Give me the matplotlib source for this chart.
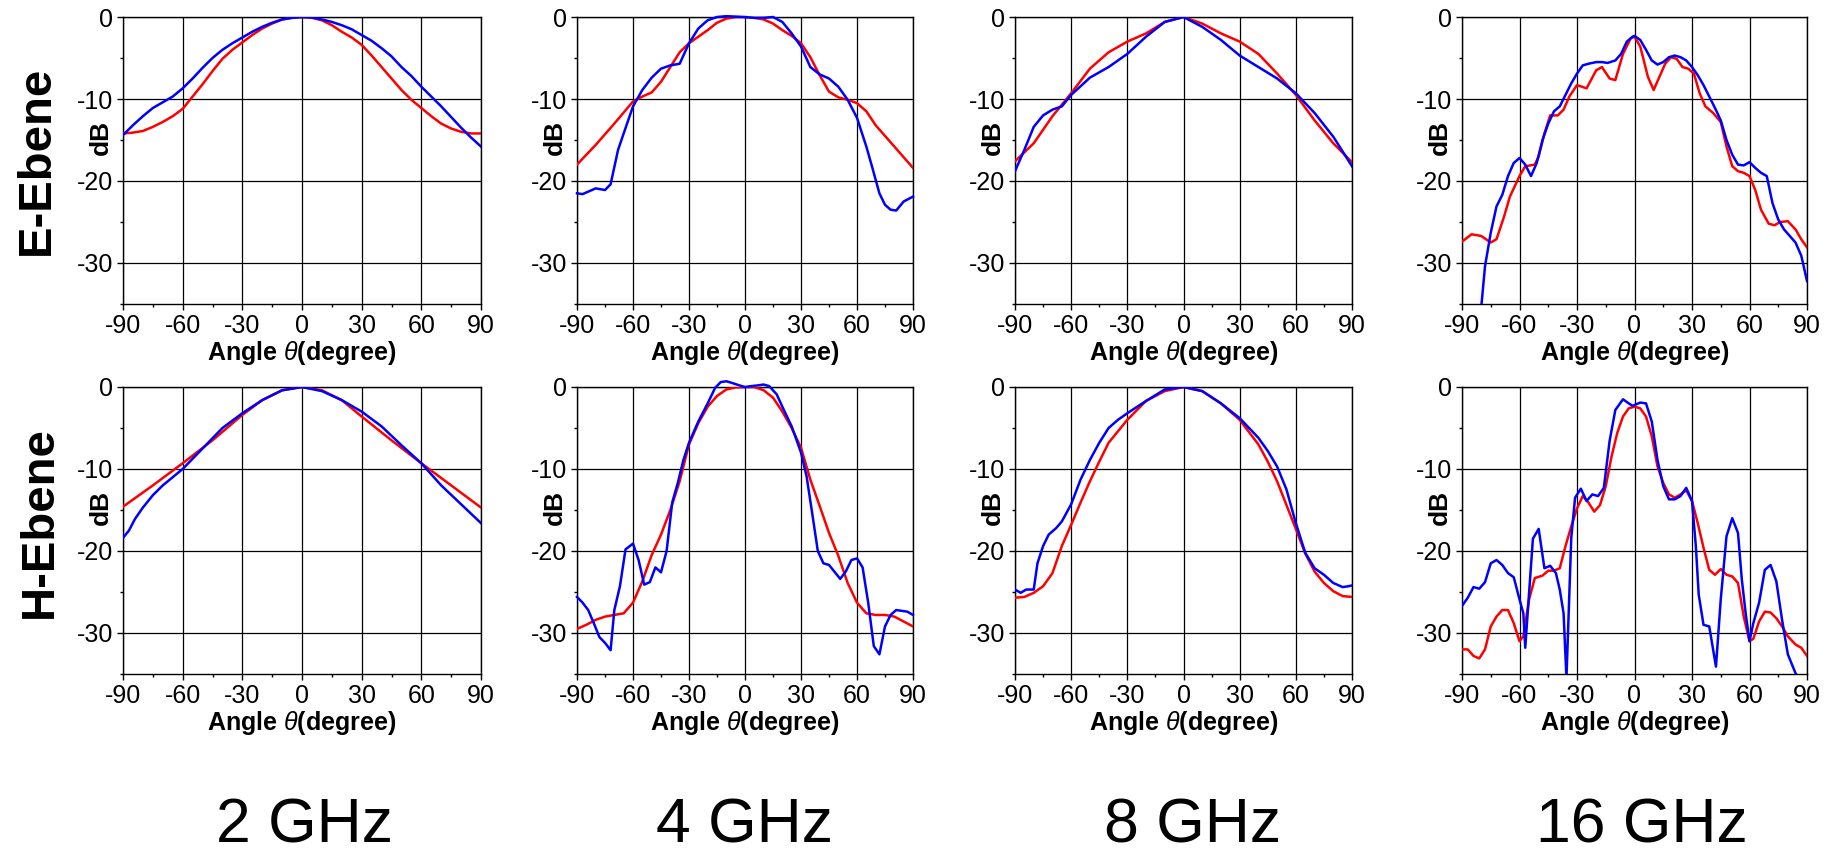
import matplotlib
matplotlib.use("Agg")
import matplotlib.pyplot as plt
from matplotlib.ticker import MultipleLocator

plt.rcParams['font.family'] = ['Liberation Sans', 'DejaVu Sans']
plt.rcParams['axes.unicode_minus'] = False
plt.rcParams['mathtext.fontset'] = 'custom'
plt.rcParams['mathtext.it'] = 'Liberation Sans:italic'
plt.rcParams['mathtext.rm'] = 'Liberation Sans'

# ---------------- data (angle in degree, level in dB) ----------------
freq_labels = ["2 GHz", "4 GHz", "8 GHz", "16 GHz"]
row_labels = ["E-Ebene", "H-Ebene"]

# E-plane 2 GHz
e2_red_ang = [-90, -85, -80, -75, -70, -65, -60, -55, -50, -45, -40, -35, -30, -25, -20, -15, -10, -5, 0,
              5, 10, 15, 20, 25, 30, 35, 40, 45, 50, 55, 60, 65, 70, 75, 80, 85, 90]
e2_red = [-14.2, -14.1, -13.9, -13.4, -12.8, -12.1, -11.2, -9.7, -8.2, -6.6, -5.1, -4.0, -3.1, -2.2, -1.4, -0.8, -0.3, -0.1, 0,
          -0.1, -0.4, -1.0, -1.8, -2.5, -3.4, -4.7, -6.1, -7.5, -8.9, -10.1, -11.1, -12.1, -13.0, -13.6, -14.0, -14.2, -14.2]
e2_blue_ang = [-90, -85, -80, -75, -70, -65, -60, -55, -50, -45, -40, -35, -30, -25, -20, -15, -10, -5, 0,
               5, 10, 15, 20, 25, 30, 35, 40, 45, 50, 55, 60, 65, 70, 75, 80, 85, 90]
e2_blue = [-14.4, -13.2, -12.1, -11.1, -10.4, -9.7, -8.7, -7.5, -6.2, -5.0, -4.0, -3.2, -2.5, -1.8, -1.2, -0.7, -0.3, -0.1, 0,
           -0.05, -0.3, -0.6, -1.0, -1.5, -2.2, -2.9, -3.8, -4.8, -6.1, -7.2, -8.5, -9.7, -10.9, -12.2, -13.5, -14.7, -15.8]

# E-plane 4 GHz
e4_red_ang = [-90, -80, -70, -60, -55, -50, -45, -40, -35, -30, -25, -20, -15, -10, -5, 0, 5, 10, 15, 20,
              25, 30, 35, 40, 45, 50, 55, 60, 65, 70, 75, 80, 85, 90]
e4_red = [-18.0, -15.6, -13.0, -10.3, -9.7, -9.2, -7.9, -6.1, -4.3, -3.2, -2.4, -1.6, -0.7, -0.2, 0, 0, -0.1, -0.3, -0.8, -1.6,
          -2.3, -3.2, -4.9, -7.1, -9.1, -9.8, -10.1, -10.5, -11.5, -13.2, -14.5, -15.8, -17.1, -18.4]
e4_blue_ang = [-90, -87, -80, -75, -72, -68, -65, -60, -55, -50, -45, -40, -35, -30, -25, -20, -15, -10, 0,
               5, 10, 15, 20, 25, 30, 35, 40, 45, 50, 55, 60, 65, 68, 72, 75, 78, 81, 85, 90]
e4_blue = [-21.5, -21.6, -20.9, -21.1, -20.4, -16.2, -14.2, -10.9, -8.9, -7.4, -6.3, -5.9, -5.7, -3.2, -1.4, -0.4, 0.0, 0.1, 0,
           -0.1, -0.1, 0, -0.6, -2.0, -3.6, -6.1, -7.0, -7.5, -8.5, -10.1, -12.3, -15.8, -18.2, -21.5, -22.9, -23.5, -23.6, -22.5, -21.9]

# E-plane 8 GHz
e8_red_ang = [-90, -80, -70, -60, -50, -40, -30, -20, -10, 0, 10, 20, 30, 40, 50, 60, 70, 80, 90]
e8_red = [-17.6, -15.4, -12.1, -9.3, -6.3, -4.3, -3.0, -2.0, -0.6, 0, -0.8, -2.0, -3.0, -4.5, -6.9, -9.5, -12.6, -15.4, -17.7]
e8_blue_ang = [-90, -85, -80, -75, -70, -65, -60, -50, -40, -30, -20, -10, 0, 10, 20, 30, 40, 50, 60, 70, 80, 90]
e8_blue = [-18.8, -16.2, -13.4, -12.0, -11.3, -10.9, -9.5, -7.4, -6.1, -4.5, -2.4, -0.6, 0, -1.2, -2.8, -4.7, -6.1, -7.5,
           -9.3, -11.7, -14.6, -18.2]

# E-plane 16 GHz
e16_red_ang = [-90, -85, -80, -75, -72, -68, -65, -60, -57, -52, -50, -47, -44, -40, -37, -34, -30, -25, -20, -17,
               -13, -10, -6, -2, 0, 3, 7, 10, 13, 16, 19, 22, 25, 28, 31, 34, 37, 41, 45, 48,
               51, 54, 57, 60, 63, 66, 70, 73, 76, 80, 84, 87, 90]
e16_red = [-27.4, -26.5, -26.7, -27.5, -27.1, -24.3, -21.9, -19.4, -18.2, -18.0, -17.0, -14.2, -12.0, -12.0, -11.3, -9.7,
           -8.3, -8.7, -6.5, -6.1, -7.5, -7.7, -4.5, -2.6, -2.4, -3.6, -7.3, -8.9, -7.3, -5.7, -4.9, -5.1, -6.1, -6.3,
           -6.9, -9.3, -10.9, -11.7, -12.8, -15.8, -18.2, -18.8, -19.0, -19.4, -21.1, -23.5, -25.2, -25.4, -25.0,
           -24.9, -25.9, -27.1, -28.1]
e16_blue_ang = [-80, -78, -75, -72, -69, -66, -63, -60, -57, -54, -51, -48, -45, -42, -39, -36, -33, -30, -27, -24,
                -20, -17, -14, -10, -7, -4, -1, 0, 3, 6, 9, 12, 15, 18, 21, 24, 27, 30, 33, 36,
                39, 42, 45, 48, 51, 54, 57, 60, 63, 66, 69, 72, 75, 78, 81, 84, 87, 90]
e16_blue = [-35.5, -30.4, -26.3, -23.1, -21.7, -19.4, -17.8, -17.2, -18.0, -19.4, -17.8, -15.0, -13.0, -11.5, -10.9,
            -9.5, -8.1, -6.9, -5.9, -5.7, -5.5, -5.5, -5.6, -5.3, -4.5, -3.0, -2.4, -2.3, -2.8, -4.0, -5.3, -5.8,
            -5.5, -4.9, -4.7, -4.9, -5.3, -6.1, -7.1, -8.3, -9.7, -11.1, -12.6, -15.0, -16.8, -18.0, -18.1, -17.7,
            -18.4, -19.0, -19.4, -22.7, -24.7, -25.9, -26.7, -27.5, -29.1, -32.2]

# H-plane 2 GHz
h2_red_ang = [-90, -75, -60, -45, -30, -20, -10, 0, 10, 20, 30, 45, 60, 75, 90]
h2_red = [-14.6, -12.0, -9.3, -6.5, -3.4, -1.6, -0.4, 0, -0.4, -1.6, -3.6, -6.5, -9.3, -12.0, -14.7]
h2_blue_ang = [-90, -87, -84, -80, -75, -70, -60, -50, -40, -30, -20, -10, 0, 10, 20, 30, 40, 50, 60, 70, 80, 90]
h2_blue = [-18.4, -17.5, -16.1, -14.7, -13.2, -12.0, -10.0, -7.5, -5.0, -3.2, -1.6, -0.4, 0, -0.5, -1.6, -3.0,
           -4.8, -7.1, -9.3, -12.0, -14.3, -16.6]

# H-plane 4 GHz
h4_red_ang = [-90, -85, -80, -75, -70, -65, -60, -55, -50, -45, -40, -35, -30, -25, -20, -15, -10, -5, 0,
              5, 10, 15, 20, 25, 30, 35, 40, 45, 50, 55, 60, 65, 70, 75, 80, 85, 90]
h4_red = [-29.5, -29.0, -28.4, -28.0, -27.8, -27.6, -26.3, -23.7, -20.5, -18.0, -15.0, -11.5, -7.0, -4.4, -2.4,
          -1.1, -0.3, -0.05, 0, 0, -0.4, -1.3, -3.0, -5.0, -7.4, -11.3, -14.5, -17.8, -20.6, -23.9, -26.3, -27.6,
          -27.8, -27.8, -28.0, -28.6, -29.2]
h4_blue_ang = [-90, -87, -84, -81, -78, -75, -72, -70, -67, -64, -60, -57, -54, -51, -48, -45, -42, -39, -36, -33,
               -30, -25, -20, -16, -13, -10, -7, -3, 0, 3, 7, 10, 13, 17, 20, 25, 30, 33, 36, 39,
               42, 45, 51, 54, 57, 60, 63, 66, 69, 72, 75, 78, 81, 87, 90]
h4_blue = [-25.6, -26.3, -27.2, -28.8, -30.5, -31.2, -32.1, -27.2, -24.3, -19.8, -19.1, -21.1, -24.1, -23.8, -22.0,
           -22.6, -20.0, -14.1, -11.7, -8.9, -6.8, -4.2, -2.0, -0.1, 0.6, 0.7, 0.5, 0.2, 0, 0.1, 0.2, 0.3, 0.1, -0.9,
           -2.4, -4.8, -8.0, -10.9, -15.4, -20.0, -21.5, -21.7, -23.4, -22.5, -21.1, -20.9, -22.0, -26.3, -31.6,
           -32.6, -29.2, -27.8, -27.2, -27.4, -27.8]

# H-plane 8 GHz
h8_red_ang = [-90, -85, -80, -75, -70, -65, -60, -55, -50, -45, -40, -30, -20, -10, 0, 10, 20, 30, 40,
              45, 50, 55, 60, 65, 70, 75, 80, 85, 90]
h8_red = [-25.7, -25.6, -25.1, -24.3, -22.7, -19.4, -16.8, -14.1, -11.5, -9.1, -6.8, -4.0, -1.7, -0.5, 0, -0.5,
          -2.0, -4.0, -7.0, -9.1, -11.5, -14.4, -17.3, -20.3, -22.5, -23.9, -24.9, -25.5, -25.6]
h8_blue_ang = [-90, -87, -84, -80, -78, -75, -72, -68, -65, -60, -55, -50, -45, -40, -35, -30, -20, -10, 0, 10,
               20, 30, 40, 45, 50, 55, 60, 65, 70, 75, 80, 85, 88, 90]
h8_blue = [-24.7, -25.1, -24.7, -24.7, -21.5, -19.4, -18.0, -17.2, -16.4, -14.3, -11.3, -8.9, -6.8, -5.0, -4.0,
           -3.2, -1.7, -0.3, 0, -0.5, -2.0, -3.8, -6.2, -7.8, -9.7, -12.5, -16.6, -20.2, -22.1, -22.9, -23.9,
           -24.4, -24.3, -24.2]

# H-plane 16 GHz
h16_red_ang = [-90, -87, -84, -81, -78, -75, -72, -69, -66, -63, -60, -58, -55, -52, -48, -45, -42, -39, -36, -33,
               -30, -27, -24, -21, -18, -15, -12, -9, -6, -3, 0, 3, 6, 9, 12, 15, 18, 21, 24, 27,
               30, 33, 36, 39, 42, 45, 48, 51, 54, 57, 60, 62, 65, 68, 71, 74, 77, 80, 84, 87, 90]
h16_red = [-32.0, -32.0, -32.8, -33.1, -32.0, -29.2, -28.0, -27.2, -27.2, -28.8, -31.0, -30.4, -25.9, -23.3, -23.0,
           -22.4, -22.4, -22.1, -19.4, -17.0, -14.8, -13.3, -14.1, -15.2, -14.4, -12.1, -8.5, -5.6, -3.6, -2.6,
           -2.4, -2.6, -3.6, -6.0, -9.7, -11.7, -13.1, -13.5, -13.1, -12.6, -13.9, -16.6, -19.6, -22.3, -22.9,
           -22.2, -22.9, -23.1, -23.9, -28.0, -31.0, -30.7, -28.6, -27.4, -27.5, -28.2, -29.2, -30.4, -31.4,
           -31.8, -32.8]
h16_blue_ang = [-90, -87, -84, -81, -78, -75, -72, -69, -66, -63, -60, -58, -57, -55, -53, -50, -47, -44, -41, -39,
                -37, -35.5, -33, -31, -28, -25, -22, -19, -16, -13, -10, -6, -3, -1, 3, 6, 9, 12, 15, 18,
                21, 24, 27, 30, 32, 33.5, 36, 39, 42.5, 45, 48, 51, 54, 56, 58, 60, 62, 65, 68, 71,
                74, 77, 80, 84, 86]
h16_blue = [-26.7, -25.7, -24.4, -24.6, -23.8, -21.5, -21.1, -21.7, -22.7, -23.2, -25.9, -27.6, -31.8, -25.1, -18.5,
            -17.3, -22.1, -21.8, -22.7, -24.7, -27.6, -35.5, -18.4, -13.5, -12.4, -13.9, -13.1, -13.3, -12.3, -6.6,
            -2.8, -1.5, -2.0, -2.3, -1.9, -2.0, -4.2, -8.9, -12.1, -13.7, -13.7, -13.3, -12.3, -13.9, -19.4, -25.3,
            -29.0, -29.2, -34.1, -25.9, -18.2, -16.0, -17.8, -23.5, -27.6, -31.0, -28.8, -26.3, -22.3, -21.7,
            -23.7, -28.4, -32.6, -34.9, -35.7]

panels = [
    [(e2_red_ang, e2_red, e2_blue_ang, e2_blue), (e4_red_ang, e4_red, e4_blue_ang, e4_blue),
     (e8_red_ang, e8_red, e8_blue_ang, e8_blue), (e16_red_ang, e16_red, e16_blue_ang, e16_blue)],
    [(h2_red_ang, h2_red, h2_blue_ang, h2_blue), (h4_red_ang, h4_red, h4_blue_ang, h4_blue),
     (h8_red_ang, h8_red, h8_blue_ang, h8_blue), (h16_red_ang, h16_red, h16_blue_ang, h16_blue)],
]

# ---------------- layout ----------------
W, H = 1834, 857
fig = plt.figure(figsize=(W / 100, H / 100), dpi=100)

cols = [(123, 481), (577, 913), (1015, 1352), (1462, 1807)]
rows = [(17, 304), (387, 674)]
freq_x = [305, 745, 1193, 1642]
row_label_pos = [(49, 160), (52, 522)]

for r, (top, bot) in enumerate(rows):
    for c, (left, right) in enumerate(cols):
        ax = fig.add_axes([left / W, 1 - bot / H, (right - left) / W, (bot - top) / H])
        ra, rv, ba, bv = panels[r][c]
        ax.plot(ra, rv, color='#ff0000', lw=1.8, zorder=3, clip_on=(max(rv) <= 0))
        ax.plot(ba, bv, color='#0000ff', lw=1.8, zorder=4, clip_on=(max(bv) <= 0))
        ax.set_xlim(-90, 90)
        ax.set_ylim(-35, 0)
        ax.set_xticks([-90, -60, -30, 0, 30, 60, 90])
        ax.set_yticks([0, -10, -20, -30])
        ax.xaxis.set_minor_locator(MultipleLocator(15))
        ax.yaxis.set_minor_locator(MultipleLocator(5))
        ax.tick_params(which='major', direction='out', length=4, width=1, labelsize=18, pad=3)
        ax.tick_params(which='minor', direction='out', length=2.5, width=1)
        ax.grid(True, which='major', color='black', lw=0.9)
        ax.set_axisbelow(True)
        for s in ax.spines.values():
            s.set_color('black')
            s.set_linewidth(1.0)
        ax.set_xlabel('Angle $\\theta$(degree)', fontsize=18, fontweight='bold', labelpad=1)
        fig.text((left - 15) / W, 1 - (top + 120) / H, 'dB', rotation=90, rotation_mode='anchor',
                 ha='center', va='baseline', fontsize=19, fontweight='bold')

for r, (x, y) in enumerate(row_label_pos):
    fig.text(x / W, 1 - y / H, row_labels[r], rotation=90, rotation_mode='anchor',
             ha='center', va='baseline', fontsize=34, fontweight='bold')

for c, x in enumerate(freq_x):
    fig.text(x / W, 1.5 / H, freq_labels[c], ha='center', va='bottom', fontsize=45)

fig.savefig('out.png', dpi=100, facecolor='white')
